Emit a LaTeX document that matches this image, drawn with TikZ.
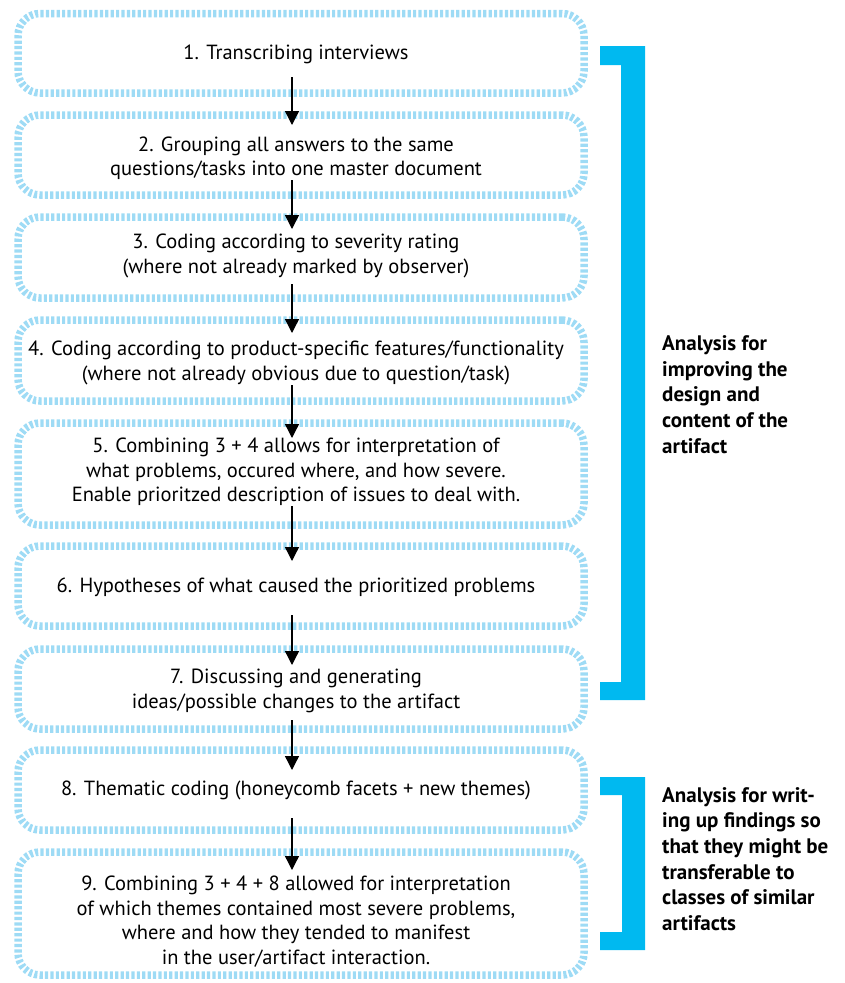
\documentclass[tikz,border=0pt]{standalone}
\usepackage{fontspec}
\setmainfont{PT Sans}
\usetikzlibrary{arrows.meta}
\definecolor{dashblue}{RGB}{158,219,245}
\definecolor{brackblue}{RGB}{0,185,240}
\begin{document}
\begin{tikzpicture}[x=1pt,y=-1pt,
  stepbox/.style={draw=dashblue, line width=7.5pt, dash pattern=on 3.2pt off 2.2pt,
    rounded corners=22pt, minimum width=566pt, outer sep=0pt, inner sep=0pt},
  steptext/.style={font=\fontsize{20.5}{24.5}\selectfont, align=center, inner sep=0pt},
  sidetext/.style={font=\fontsize{21}{25.7}\selectfont\bfseries, align=left, inner sep=0pt, anchor=west},
  flow/.style={line width=1.3pt, -{Triangle[width=14pt,length=14pt]}},
  brack/.style={fill=brackblue, draw=none}]
\useasboundingbox (0,0) rectangle (845,983);

\node[stepbox, minimum height=79.5pt] (b1) at (301,53.25) {};
\node[stepbox, minimum height=80pt] (b2) at (301,155) {};
\node[stepbox, minimum height=81pt] (b3) at (301,257.5) {};
\node[stepbox, minimum height=81pt] (b4) at (301,360.5) {};
\node[stepbox, minimum height=102pt] (b5) at (301,474) {};
\node[stepbox, minimum height=80pt] (b6) at (301,586) {};
\node[stepbox, minimum height=80pt] (b7) at (301,689) {};
\node[stepbox, minimum height=80pt] (b8) at (301,790) {};
\node[stepbox, minimum height=123pt] (b9) at (301,913.5) {};

\node[steptext] (t1) at (296,54) {1. Transcribing interviews};
\node[steptext] (t2) at (296,158) {2. Grouping all answers to the same\\questions/tasks into one master document};
\node[steptext] (t3) at (296,256) {3. Coding according to severity rating\\(where not already marked by observer)};
\node[steptext] (t4) at (296,363) {4. Coding according to product-specific features/functionality\\(where not already obvious due to question/task)};
\node[steptext] (t5) at (296,472) {5. Combining 3 + 4 allows for interpretation of\\what problems, occured where, and how severe.\\Enable prioritzed description of issues to deal with.};
\node[steptext] (t6) at (296,587) {6. Hypotheses of what caused the prioritized problems};
\node[steptext] (t7) at (296,691) {7. Discussing and generating\\ideas/possible changes to the artifact};
\node[steptext] (t8) at (296,790) {8. Thematic coding (honeycomb facets + new themes)};
\node[steptext] (t9) at (296,921.5) {9. Combining 3 + 4 + 8 allowed for interpretation\\of which themes contained most severe problems,\\where and how they tended to manifest\\in the user/artifact interaction.};

\draw[flow] ([xshift=-9pt,yshift=16pt]b1.south) -- ([xshift=-9pt,yshift=-10pt]b2.north);
\draw[flow] ([xshift=-9pt,yshift=15pt]b2.south) -- ([xshift=-9pt,yshift=-12pt]b3.north);
\draw[flow] ([xshift=-9pt,yshift=14pt]b3.south) -- ([xshift=-9pt,yshift=-13pt]b4.north);
\draw[flow] ([xshift=-9pt,yshift=16pt]b4.south) -- ([xshift=-9pt,yshift=-15pt]b5.north);
\draw[flow] ([xshift=-9pt,yshift=19pt]b5.south) -- ([xshift=-9pt,yshift=-15pt]b6.north);
\draw[flow] ([xshift=-9pt,yshift=11pt]b6.south) -- ([xshift=-9pt,yshift=-16pt]b7.north);
\draw[flow] ([xshift=-9pt,yshift=9pt]b7.south) -- ([xshift=-9pt,yshift=-20pt]b8.north);
\draw[flow] ([xshift=-9pt,yshift=12pt]b8.south) -- ([xshift=-9pt,yshift=-18pt]b9.north);

\fill[brack] (600,46) -- (645,46) -- (645,700) -- (600,700) -- (600,682) -- (621,682) -- (621,65) -- (600,65) -- cycle;
\fill[brack] (600,777) -- (645,777) -- (645,950) -- (600,950) -- (600,932) -- (622,932) -- (622,795) -- (600,795) -- cycle;

\node[sidetext] (s1) at (662,394.5) {Analysis for\\improving the\\design and\\content of the\\artifact};
\node[sidetext] (s2) at (662,859) {Analysis for writ-\\ing up findings so\\that they might be\\transferable to\\classes of similar\\artifacts};
\end{tikzpicture}
\end{document}
